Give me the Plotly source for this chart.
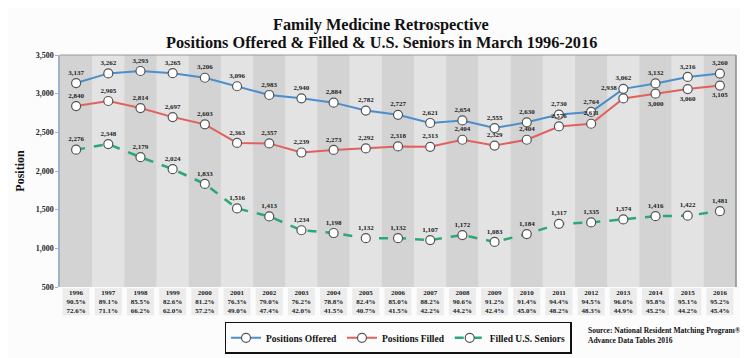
import plotly.graph_objects as go

years = [str(y) for y in range(1996, 2017)]
offered = [3137, 3262, 3293, 3265, 3206, 3096, 2983, 2940, 2884, 2782, 2727,
           2621, 2654, 2555, 2630, 2730, 2764, 3062, 3132, 3216, 3260]
filled = [2840, 2905, 2814, 2697, 2603, 2363, 2357, 2239, 2273, 2292, 2318,
          2313, 2404, 2329, 2404, 2576, 2611, 2938, 3000, 3060, 3105]
seniors = [2276, 2348, 2179, 2024, 1833, 1516, 1413, 1234, 1198, 1132, 1132,
           1107, 1172, 1083, 1184, 1317, 1335, 1374, 1416, 1422, 1481]
pct_filled = ["90.5%", "89.1%", "85.5%", "82.6%", "81.2%", "76.3%", "79.0%",
              "76.2%", "78.8%", "82.4%", "85.0%", "88.2%", "90.6%", "91.2%",
              "91.4%", "94.4%", "94.5%", "96.0%", "95.8%", "95.1%", "95.2%"]
pct_seniors = ["72.6%", "71.1%", "66.2%", "62.0%", "57.2%", "49.0%", "47.4%",
               "42.0%", "41.5%", "40.7%", "41.5%", "42.2%", "44.2%", "42.4%",
               "45.0%", "48.2%", "48.3%", "44.9%", "45.2%", "44.2%", "45.4%"]

SERIF = "Liberation Serif"
n = len(years)
xs = list(range(n))

filled_pos = ["top center"] * n
filled_pos[17] = "top left"
for i in (18, 19, 20):
    filled_pos[i] = "bottom center"

def fmt(v):
    return f"{v:,}"

marker = dict(size=9, color="white", line=dict(color="#555555", width=1.2))
tfont = dict(family=SERIF, size=7, color="#222222", weight="bold")

fig = go.Figure()
fig.add_trace(go.Scatter(
    x=xs, y=offered, name="Positions Offered", mode="lines+markers+text",
    line=dict(color="#4a8fcc", width=2), marker=marker,
    text=[fmt(v) for v in offered], textposition="top center", textfont=tfont))
fig.add_trace(go.Scatter(
    x=xs, y=filled, name="Positions Filled", mode="lines+markers+text",
    line=dict(color="#e0625e", width=2), marker=marker,
    text=[fmt(v) for v in filled], textposition=filled_pos, textfont=tfont))
fig.add_trace(go.Scatter(
    x=xs, y=seniors, name="Filled U.S. Seniors", mode="lines+markers+text",
    line=dict(color="#2aa876", width=2.5, dash="dash"), marker=marker,
    text=[fmt(v) for v in seniors], textposition="top center", textfont=tfont))

shapes = []
for i in xs:
    shapes.append(dict(type="rect", xref="x", yref="paper", x0=i - 0.5, x1=i + 0.5,
                       y0=0, y1=1, fillcolor="#d3d3d3" if i % 2 == 0 else "#e3e3e3",
                       line=dict(width=0), layer="below"))
    shapes.append(dict(type="rect", xref="x", yref="paper", x0=i - 0.42, x1=i + 0.42,
                       y0=-0.122, y1=-0.005, fillcolor="#ececec",
                       line=dict(width=0), layer="below"))
# frame
shapes.append(dict(type="line", xref="paper", yref="paper", x0=0, x1=1, y0=1, y1=1,
                   line=dict(color="#9a9a9a", width=1)))
shapes.append(dict(type="line", xref="paper", yref="paper", x0=1, x1=1, y0=0, y1=1,
                   line=dict(color="#8a8a8a", width=1.5)))

ticktext = [f"{y}<br>{a}<br>{b}" for y, a, b in zip(years, pct_filled, pct_seniors)]

title_font = dict(family=SERIF, size=16.3, color="#111111", weight="bold")

fig.update_layout(
    width=748, height=358,
    margin=dict(l=52, r=20, t=47, b=74),
    paper_bgcolor="#fcfcfc", plot_bgcolor="#e0e0e0",
    shapes=shapes,
    xaxis=dict(range=[-0.5, n - 0.5], tickvals=xs, ticktext=ticktext,
               showgrid=False, zeroline=False, ticks="", showline=False,
               tickfont=dict(family=SERIF, size=7, color="#222222", weight="bold")),
    yaxis=dict(range=[500, 3500], dtick=500, tickformat=",", showgrid=False,
               zeroline=False, showline=True, linecolor="#9fb3c8", linewidth=1.5,
               ticks="outside", ticklen=3, tickcolor="#9fb3c8",
               tickfont=dict(family=SERIF, size=8, color="#222222", weight="bold"),
               title=dict(text="Position", standoff=8,
                          font=dict(family=SERIF, size=12, color="#111111", weight="bold"))),
    legend=dict(orientation="h", x=0.5, xanchor="center", y=-0.15, yanchor="top",
                bgcolor="#fcfcfc", bordercolor="#111111", borderwidth=1.5,
                font=dict(family=SERIF, size=9.5, color="#111111", weight="bold"),
                itemwidth=30),
    showlegend=True,
    annotations=[
        dict(text="Family Medicine Retrospective",
             xref="paper", yref="paper", x=0.475, xanchor="center",
             y=1 + (47 - 16) / 237, yanchor="middle", showarrow=False,
             font=title_font),
        dict(text="Positions Offered & Filled & U.S. Seniors in March 1996-2016",
             xref="paper", yref="paper", x=0.475, xanchor="center",
             y=1 + (47 - 34) / 237, yanchor="middle", showarrow=False,
             font=title_font),
        dict(text="Source: National Resident Matching Program®<br>Advance Data Tables 2016",
             xref="paper", yref="paper", x=(578 - 52) / 676, xanchor="left",
             y=(284 - 322) / 237, yanchor="top", showarrow=False, align="left",
             font=dict(family=SERIF, size=7.5, color="#111111", weight="bold")),
    ],
)

fig.write_html("out.html")
